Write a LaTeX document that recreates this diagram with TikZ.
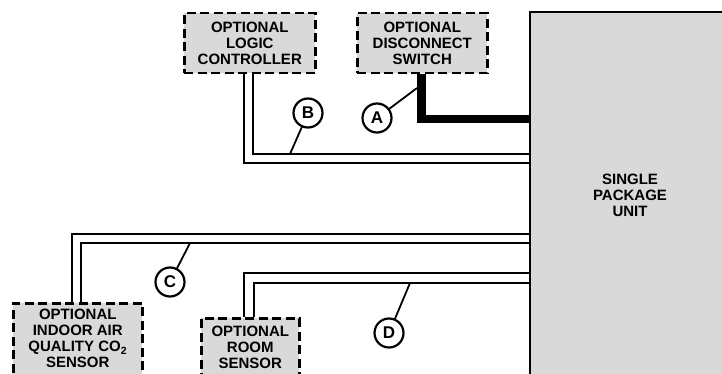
\documentclass[tikz,border=0pt]{standalone}
\usepackage{fontspec}
\setmainfont{Liberation Sans}
\begin{document}
\begin{tikzpicture}[x=1pt,y=-1pt,
  optbox/.style={draw=black,fill=boxgray,line width=2.5pt,dash pattern=on 9pt off 4.5pt,rectangle,inner sep=0pt},
  lbl/.style={font=\fontsize{15}{16}\selectfont\bfseries,align=center,inner sep=0pt},
  wire/.style={line width=1.6pt},
  power/.style={line width=8.5pt,line join=miter,line cap=butt},
  tag/.style={circle,draw=black,line width=2.2pt,fill=white,minimum size=29pt,inner sep=0pt,font=\fontsize{17}{18}\selectfont\bfseries},
  leader/.style={line width=1.8pt}]
\definecolor{boxgray}{RGB}{217,217,217}
\useasboundingbox (0,0) rectangle (722,374);
\clip (0,0) rectangle (722,374);
% unit
\node[draw=black,fill=boxgray,line width=2pt,rectangle,inner sep=0pt,minimum width=200pt,minimum height=380pt,anchor=north west] (unit) at (529,11) {};
\node[lbl] (unitt) at (630,195) {SINGLE\\PACKAGE\\UNIT};
% top boxes
\node[optbox,minimum width=131pt,minimum height=60pt,anchor=north west,lbl,draw=black,line width=2.5pt] (plc) at (183,12) {OPTIONAL\\LOGIC\\CONTROLLER};
\node[optbox,minimum width=130pt,minimum height=60pt,anchor=north west,lbl,draw=black,line width=2.5pt] (disc) at (356,12) {OPTIONAL\\DISCONNECT\\SWITCH};
% bottom boxes
\node[optbox,minimum width=129pt,minimum height=100pt,anchor=north west] (iaq) at (12,302) {};
\node[lbl,anchor=north] (iaqt) at ([yshift=-7pt]iaq.north) {OPTIONAL\\INDOOR AIR\\QUALITY CO\textsubscript{2}\\SENSOR};
\node[optbox,minimum width=98pt,minimum height=100pt,anchor=north west] (room) at (200,317) {};
\node[lbl,anchor=north] (roomt) at ([yshift=-9pt]room.north) {OPTIONAL\\ROOM\\SENSOR};
% wires
\draw[power] (disc.south -| 421.5,0) -- (421.5,119) -- (unit.west |- 0,119);
\draw[wire] (plc.south -| 244,0) -- (244,163) -- (unit.west |- 0,163);
\draw[wire] (plc.south -| 253,0) -- (253,154) -- (unit.west |- 0,154);
\draw[wire] (iaq.north -| 72,0) -- (72,234) -- (unit.west |- 0,234);
\draw[wire] (iaq.north -| 81,0) -- (81,243) -- (unit.west |- 0,243);
\draw[wire] (room.north -| 244,0) -- (244,273) -- (unit.west |- 0,273);
\draw[wire] (room.north -| 254,0) -- (254,283) -- (unit.west |- 0,283);
% tags
\coordinate (pa) at (417,88);
\coordinate (pb) at (290,154);
\coordinate (pc) at (190,243);
\coordinate (pd) at (410,283);
\draw[leader] (pa) -- (377,118);
\draw[leader] (pb) -- (308,113);
\draw[leader] (pc) -- (170,282);
\draw[leader] (pd) -- (389,333);
\node[tag] (ta) at (377,118) {A};
\node[tag] (tb) at (308,113) {B};
\node[tag] (tc) at (170,282) {C};
\node[tag] (td) at (389,333) {D};
\end{tikzpicture}
\end{document}
